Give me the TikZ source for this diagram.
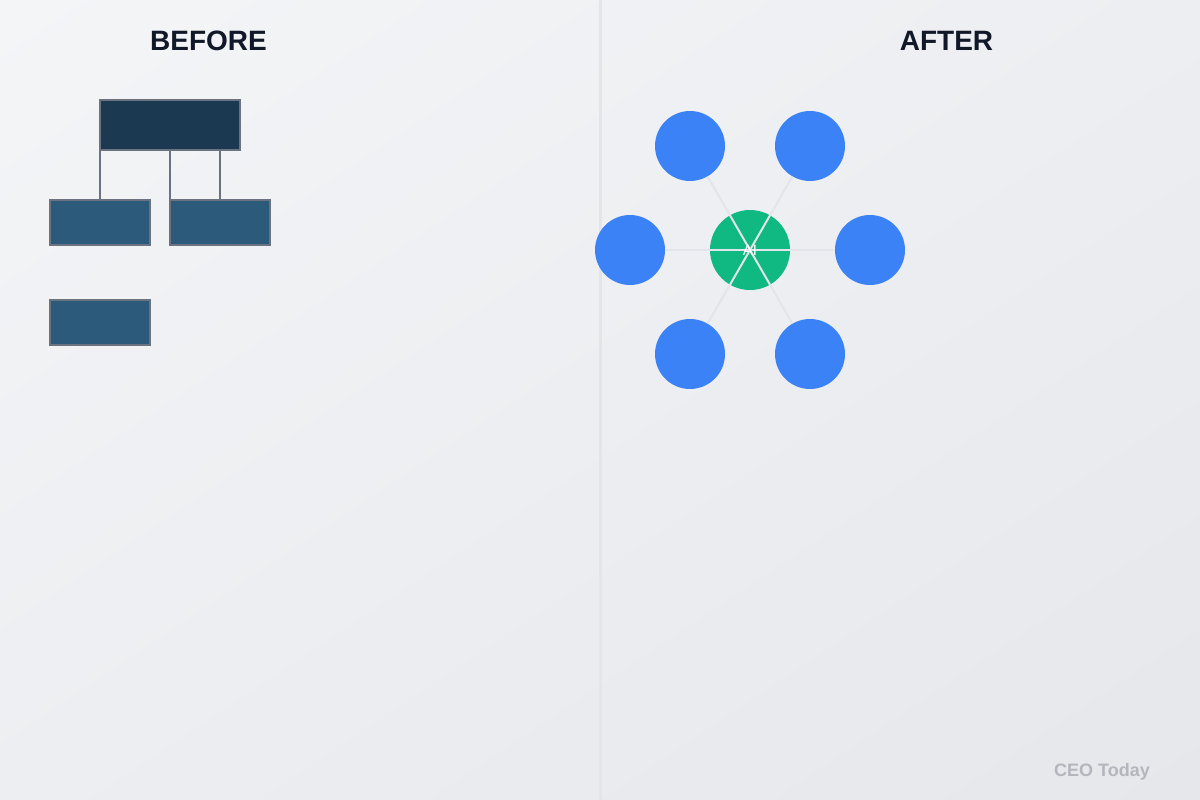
\documentclass[tikz,border=0pt]{standalone}
\usepackage{fontspec}
\setmainfont{Liberation Sans}
\usetikzlibrary{shadings}
\definecolor{bgA}{HTML}{F4F5F7}
\definecolor{bgB}{HTML}{E6E7EB}
\definecolor{bgM}{HTML}{EDEEF1}
\definecolor{divider}{HTML}{E3E5E9}
\definecolor{topbox}{HTML}{1B3A52}
\definecolor{subbox}{HTML}{2C5A7B}
\definecolor{edgegray}{HTML}{6B7280}
\definecolor{titlec}{HTML}{111827}
\definecolor{nodeblue}{HTML}{3B82F6}
\definecolor{aigreen}{HTML}{10B981}
\definecolor{spoke}{HTML}{E2E5EA}
\definecolor{wm}{HTML}{B3B6BD}
\tikzset{
  orgbox/.style={draw=edgegray, line width=2pt, inner sep=0pt, outer sep=0pt},
  orgline/.style={draw=edgegray, line width=2pt},
  bluenode/.style={circle, fill=nodeblue, minimum size=70pt, inner sep=0pt},
  title/.style={font=\fontsize{28}{32}\selectfont\bfseries, text=titlec},
}
\begin{document}
\begin{tikzpicture}[x=1pt,y=-1pt]
\useasboundingbox (0,0) rectangle (1200,800);
\shade[upper left=bgA, upper right=bgM, lower left=bgM, lower right=bgB] (0,0) rectangle (1200,800);
\fill[divider] (598.5,0) rectangle (601.5,800);
% titles
\node[title] (before) at (208.5,41) {BEFORE};
\node[title] (after) at (946.5,41) {AFTER};
% org chart
\node[orgbox, fill=topbox, minimum width=140pt, minimum height=50pt] (top) at (170,125) {};
\node[orgbox, fill=subbox, minimum width=100pt, minimum height=45pt] (c1) at (100,222.5) {};
\node[orgbox, fill=subbox, minimum width=100pt, minimum height=45pt] (c2) at (220,222.5) {};
\node[orgbox, fill=subbox, minimum width=100pt, minimum height=45pt] (c3) at (100,322.5) {};
\draw[orgline] (top.south west) -- (c1.north);
\draw[orgline] (top.south) -- (c2.north west);
\draw[orgline] ([xshift=50pt]top.south) -- (c2.north);
% network
\node[circle, fill=aigreen, minimum size=80pt, inner sep=0pt] (ai) at (750,250) {};
\node[bluenode] (n1) at (690,146) {};
\node[bluenode] (n2) at (810,146) {};
\node[bluenode] (n3) at (630,250) {};
\node[bluenode] (n4) at (870,250) {};
\node[bluenode] (n5) at (690,354) {};
\node[bluenode] (n6) at (810,354) {};
\foreach \n in {n1,n2,n3,n4,n5,n6}
  \draw[spoke, line width=2pt] (ai.center) -- (\n);
\node[text=white, font=\fontsize{15}{18}\selectfont] (ailabel) at (750,250) {AI};
% watermark
\node[anchor=base east, inner sep=0pt, text=wm, font=\fontsize{18}{20}\selectfont\bfseries] (mark) at (1150,776) {CEO Today};
\end{tikzpicture}
\end{document}
